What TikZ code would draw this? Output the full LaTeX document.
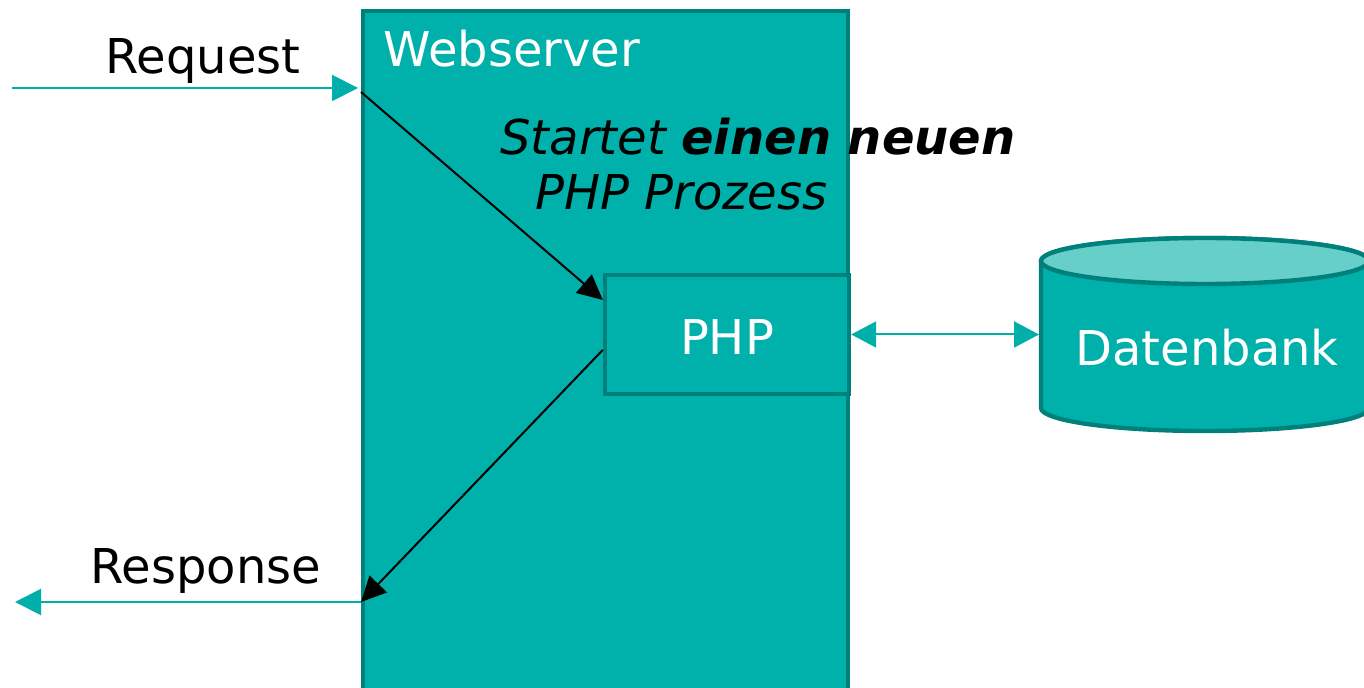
\documentclass[tikz,border=0pt]{standalone}
\usepackage{fontspec}
\setmainfont{DejaVu Sans}
\usetikzlibrary{arrows.meta,calc}
\definecolor{tealfill}{RGB}{0,176,170}
\definecolor{tealedge}{RGB}{0,128,122}
\definecolor{teallight}{RGB}{102,207,202}
\definecolor{tealline}{RGB}{0,175,170}
\tikzset{
  box/.style={draw=tealedge, fill=tealfill, line width=2.2pt, inner sep=0pt},
  lbl/.style={font=\fontsize{24}{29}\selectfont, inner sep=0pt, anchor=base},
  wlbl/.style={lbl, text=white},
  flow/.style={draw=tealline, line width=1pt, -{Triangle[length=13pt,width=13pt]}},
  call/.style={draw=black, line width=1pt, -{Triangle[length=12.5pt,width=12pt]}},
}
\begin{document}
\begin{tikzpicture}[x=0.5pt,y=-0.5pt]
\useasboundingbox (0,0) rectangle (1364,688);
\clip (0,0) rectangle (1364,688);

% web server and the PHP process inside it
\node (web) [box, anchor=north west, minimum width=242.5pt, minimum height=360pt] at (361,9) {};
\node (php) [box, minimum width=122pt, minimum height=59.5pt] at (727,334.5) {};
\node (phptext) [wlbl] at (727,355) {PHP};
\node (webtext) [wlbl, anchor=base west] at (383,67) {Webserver};
\node (start1) [lbl, anchor=base west] at (500,155) {\itshape Startet \bfseries einen neuen};
\node (start2) [lbl, anchor=base west] at (535,210) {\itshape PHP Prozess};

% database cylinder
\draw[draw=tealedge, fill=tealfill, line width=2.2pt]
  (1041,261) -- (1041,408) arc[start angle=180, end angle=360, x radius=82pt, y radius=11.5pt]
  -- (1369,261) arc[start angle=0, end angle=180, x radius=82pt, y radius=11.5pt] -- cycle;
\draw[draw=tealedge, fill=teallight, line width=2.2pt] (1205,261) ellipse[x radius=82pt, y radius=11.5pt];
\node (db) [wlbl] at (1207,366) {Datenbank};
\coordinate (dbw) at (php.east -| 1039,0);

% request and response
\coordinate (reqsrc) at (12,88);
\coordinate (respdst) at (15,602);
\coordinate (reqin) at (web.west |- reqsrc);
\coordinate (respout) at (web.west |- respdst);
\draw[flow, shorten >=1.5pt] (reqsrc) -- (reqin);
\draw[flow] (respout) -- (respdst);
\node (reqtext) [lbl] at (203,74) {Request};
\node (resptext) [lbl] at (206,584) {Response};

% calls between web server and PHP
\draw[call] ($(reqin)+(0,4)$) -- ($(php.north west)!0.22!(php.south west)$);
\draw[call] ($(php.north west)!0.625!(php.south west)$) -- (respout);

% PHP <-> database
\draw[draw=tealline, line width=1pt, {Triangle[length=12.5pt,width=13pt]}-{Triangle[length=12.5pt,width=13pt]}]
  (php.east) -- (dbw);
\end{tikzpicture}
\end{document}
